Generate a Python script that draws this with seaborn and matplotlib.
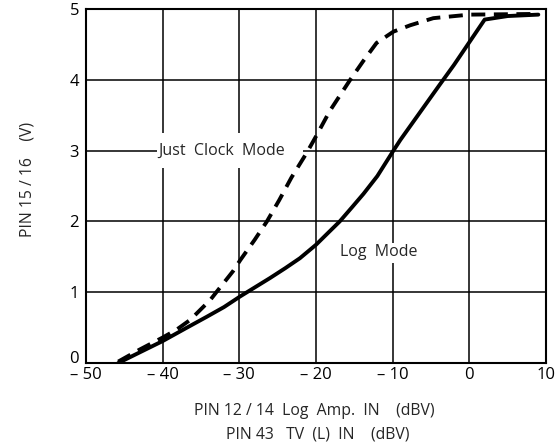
import numpy as np
import pandas as pd
import matplotlib
matplotlib.use("Agg")
import matplotlib.pyplot as plt
from matplotlib.patches import Rectangle
import seaborn as sns

# --- datos ---
LOG_X = [-45.8, -43, -40, -37, -34.3, -32, -29.9, -29.0, -26, -24, -22.1, -20, -18.5,
         -16.9, -15.3, -13.8, -12, -9.9, -9.0, -6.5, -3.8, -2, 0, 2.0, 5, 9]
LOG_Y = [0.0, 0.15, 0.31, 0.49, 0.65, 0.79, 0.94, 1.0, 1.2, 1.34, 1.48, 1.67, 1.83,
         2.0, 2.2, 2.39, 2.64, 3.0, 3.15, 3.53, 3.94, 4.21, 4.53, 4.85, 4.9, 4.92]

CLOCK_X = [-45.8, -43, -40, -38.2, -36.4, -33.8, -33.0, -30.8, -29.9, -28, -26.4,
           -24.8, -23.2, -21.2, -19.9, -18.2, -15.6, -13.8, -12.1, -9.9, -7.7, -4.7, 0, 9]
CLOCK_Y = [0.02, 0.19, 0.36, 0.47, 0.61, 0.89, 1.0, 1.3, 1.45, 1.74, 2.0,
           2.3, 2.62, 2.97, 3.22, 3.56, 3.99, 4.27, 4.52, 4.68, 4.77, 4.87, 4.92, 4.93]

X_TICKS = [-50, -40, -30, -20, -10, 0, 10]
X_TICKLABELS = ["\u2013 50", "\u2013 40", "\u2013 30", "\u2013 20", "\u2013 10", "0", "10"]
Y_TICKS = [0, 1, 2, 3, 4, 5]

sns.set_style("white")
plt.rcParams["font.family"] = ["Open Sans", "DejaVu Sans"]

fig = plt.figure(figsize=(5.56, 4.48), dpi=100)
ax = fig.add_axes([0.1547, 0.1897, 0.8273, 0.7903])

df_log = pd.DataFrame({"x": LOG_X, "y": LOG_Y})
df_clock = pd.DataFrame({"x": CLOCK_X, "y": CLOCK_Y})
sns.lineplot(data=df_log, x="x", y="y", ax=ax, color="black", lw=2.8, zorder=4,
             sort=False)
sns.lineplot(data=df_clock, x="x", y="y", ax=ax, color="black", lw=2.8,
             linestyle=(0, (3.6, 2.2)), zorder=4, sort=False)

ax.set_xlim(-50, 10)
ax.set_ylim(0, 5)
ax.set_xticks(X_TICKS)
ax.set_xticklabels(X_TICKLABELS)
ax.set_yticks(Y_TICKS)
ax.set_yticklabels([str(v) for v in Y_TICKS])
ax.grid(True, color="black", lw=1.1)
ax.tick_params(axis="both", length=0, labelsize=12, colors="black")
ax.tick_params(axis="x", pad=3)
ax.tick_params(axis="y", pad=5)
# el "0" del eje y queda un poco por encima, como en el original
ax.get_yticklabels()[0].set_verticalalignment("baseline")
for s in ax.spines.values():
    s.set_color("black")
    s.set_linewidth(1.5)
ax.set_xlabel("")
ax.set_ylabel("")

# recuadros blancos detrás de las etiquetas (tapan la rejilla)
ax.add_patch(Rectangle((-40.7, 2.75), 19.0, 0.5, facecolor="white",
                       edgecolor="none", zorder=2.5))
ax.add_patch(Rectangle((-17.1, 1.41), 10.3, 0.29, facecolor="white",
                       edgecolor="none", zorder=2.5))
ax.text(-40.6, 3.0, "Just  Clock  Mode", fontsize=11.5, va="center", ha="left", zorder=3)
ax.text(-16.9, 1.57, "Log  Mode", fontsize=11.5, va="center", ha="left", zorder=3)

fig.text(0.05, 0.6, "PIN 15 / 16    (V)", rotation=90, fontsize=11.3,
         ha="center", va="center")
fig.text(0.565, 0.083, "PIN 12 / 14  Log  Amp.  IN    (dBV)", fontsize=11.3,
         ha="center", va="center")
fig.text(0.572, 0.031, "PIN 43   TV  (L)  IN    (dBV)", fontsize=11.3,
         ha="center", va="center")

fig.savefig("out.png", dpi=100)
